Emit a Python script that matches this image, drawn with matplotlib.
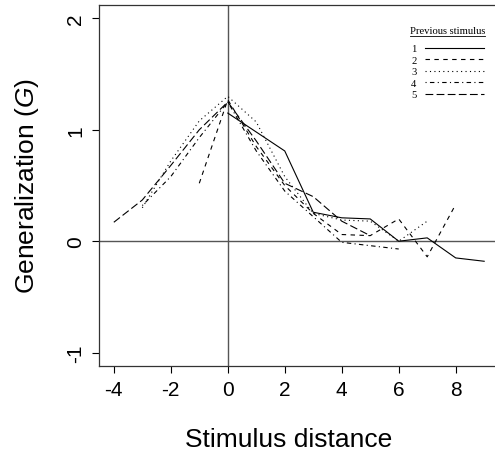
import matplotlib.pyplot as plt
from matplotlib.lines import Line2D

plt.rcParams['font.family'] = ['Liberation Sans', 'DejaVu Sans']
plt.rcParams['axes.unicode_minus'] = False
plt.rcParams['mathtext.fontset'] = 'custom'
plt.rcParams['mathtext.rm'] = 'Liberation Sans'
plt.rcParams['mathtext.it'] = 'Liberation Sans:italic'

# Generalization by stimulus distance, one series per previous stimulus
dist1 = [0, 1, 2, 3, 4, 5, 6, 7, 8, 9]
gen1 = [1.15, 0.98, 0.81, 0.26, 0.21, 0.20, 0.00, 0.03, -0.15, -0.18]
dist2 = [-1, 0, 1, 2, 3, 4, 5, 6, 7, 8]
gen2 = [0.52, 1.27, 0.85, 0.50, 0.25, 0.06, 0.05, 0.20, -0.14, 0.33]
dist3 = [-3, -2, -1, 0, 1, 2, 3, 4, 5, 6, 7]
gen3 = [0.30, 0.72, 1.08, 1.30, 1.07, 0.58, 0.25, 0.19, 0.18, 0.00, 0.18]
dist4 = [-3, -2, -1, 0, 1, 2, 3, 4, 5, 6]
gen4 = [0.32, 0.58, 0.93, 1.25, 0.81, 0.45, 0.22, -0.01, -0.04, -0.07]
dist5 = [-4, -3, -2, -1, 0, 1, 2, 3, 4, 5]
gen5 = [0.17, 0.37, 0.68, 1.00, 1.25, 0.90, 0.52, 0.40, 0.18, 0.05]

labels = ['1', '2', '3', '4', '5']
xticks = [-4, -2, 0, 2, 4, 6, 8]
yticks = [-1, 0, 1, 2]

fig = plt.figure(figsize=(4.95, 4.6), dpi=100)
ax = fig.add_axes([99 / 495, 93 / 460, 400 / 495, 361 / 460])

# R style line types
styles = ['-', (0, (4, 4)), (0, (1, 3)), (0, (1, 3, 4, 3)), (0, (7, 3))]
series = [(dist1, gen1), (dist2, gen2), (dist3, gen3), (dist4, gen4), (dist5, gen5)]
for (x, y), ls, lab in zip(series, styles, labels):
    ax.plot(x, y, color='black', linewidth=0.8, linestyle=ls, label=lab)

ax.axhline(0, color='#555555', linewidth=1.0, zorder=0)
ax.axvline(0, color='#555555', linewidth=1.0, zorder=0)

ax.set_xlim(-4.52, 9.52)
ax.set_ylim(-1.12, 2.12)
ax.set_xticks(xticks)
ax.set_yticks(yticks)
ax.set_yticklabels([str(v) for v in yticks], rotation=90, va='center')
ax.tick_params(direction='out', length=5, width=0.8, labelsize=15, pad=5,
               top=False, right=False)
for side in ['left', 'bottom', 'top', 'right']:
    ax.spines[side].set_linewidth(0.9)
    ax.spines[side].set_color('#333333')

ax.set_xlabel('Stimulus distance', fontsize=19)
ax.xaxis.set_label_coords(0.474, -0.17)
ax.set_ylabel('Generalization ($\\mathit{G}$)', fontsize=19, labelpad=18)

leg = ax.legend(loc='upper right', bbox_to_anchor=(484 / 495, 1 - 45 / 460),
                bbox_transform=fig.transFigure, frameon=False, markerfirst=False,
                handlelength=5.6, handletextpad=0.8,
                labelspacing=0.2, borderpad=0, borderaxespad=0,
                prop={'family': 'Liberation Serif', 'size': 7.6})

# legend title, underlined, centred over the entries
fig.canvas.draw()
renderer = fig.canvas.get_renderer()
lb = leg.get_window_extent(renderer)
title = fig.text((lb.x0 + lb.x1) / 2 / fig.bbox.width, 1 - 32 / 460, 'Previous stimulus',
                 ha='center', va='center', family='Liberation Serif', fontsize=7.7)
tb = title.get_window_extent(renderer)
fig.add_artist(Line2D([tb.x0, tb.x1], [tb.y0 - 0.5, tb.y0 - 0.5],
                      transform=None, color='black', linewidth=0.6))

fig.savefig('out.png', dpi=100)
